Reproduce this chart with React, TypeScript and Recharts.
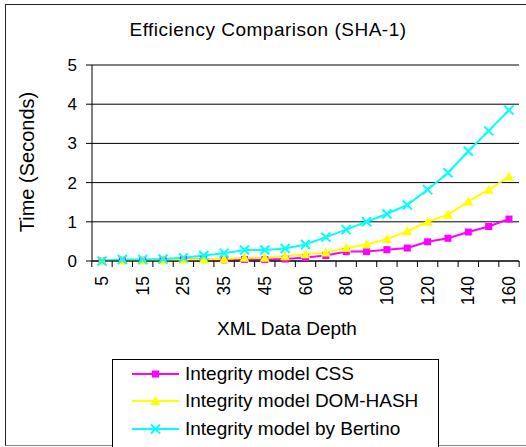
import React from 'react'
import { LineChart, Line, XAxis, YAxis, CartesianGrid, ReferenceLine } from 'recharts'

const depths = [5, 10, 15, 20, 25, 30, 35, 40, 45, 50, 60, 70, 80, 90, 100, 110, 120, 130, 140, 150, 160]
const cssTimes = [0, 0.02, 0.02, 0.03, 0.04, 0.04, 0.03, 0.04, 0.04, 0.05, 0.09, 0.14, 0.24, 0.24, 0.29, 0.33, 0.49, 0.58, 0.74, 0.88, 1.07]
const domHashTimes = [0, 0.01, 0.01, 0.02, 0.03, 0.04, 0.05, 0.08, 0.08, 0.12, 0.17, 0.22, 0.33, 0.42, 0.56, 0.76, 1.0, 1.18, 1.52, 1.82, 2.15]
const bertinoTimes = [0, 0.04, 0.04, 0.05, 0.08, 0.14, 0.2, 0.28, 0.28, 0.32, 0.42, 0.61, 0.8, 1.0, 1.2, 1.43, 1.82, 2.25, 2.8, 3.32, 3.85]
const yTicks = [0, 1, 2, 3, 4, 5]

const data = depths.map((d, i) => ({
  depth: d,
  css: cssTimes[i],
  dom: domHashTimes[i],
  bertino: bertinoTimes[i],
}))

const FONT = 'Arial, "Liberation Sans", sans-serif'
const HALF_STEP = 10.17

const SquareDot = (props: any) => {
  const { cx, cy, index } = props
  if (cx == null || cy == null) return <g key={index} />
  return <rect key={index} x={cx - 3.5} y={cy - 3.5} width={7} height={7} fill="#ff00ff" />
}

const TriangleDot = (props: any) => {
  const { cx, cy, index } = props
  if (cx == null || cy == null) return <g key={index} />
  return <polygon key={index} points={`${cx},${cy - 5} ${cx - 5},${cy + 4} ${cx + 5},${cy + 4}`} fill="#ffff00" />
}

const CrossDot = (props: any) => {
  const { cx, cy, index } = props
  if (cx == null || cy == null) return <g key={index} />
  return (
    <g key={index} stroke="#00ffff" strokeWidth={2}>
      <line x1={cx - 4.5} y1={cy - 4.5} x2={cx + 4.5} y2={cy + 4.5} />
      <line x1={cx - 4.5} y1={cy + 4.5} x2={cx + 4.5} y2={cy - 4.5} />
    </g>
  )
}

const DepthTick = (props: any) => {
  const { x, y, payload, index } = props
  const last = index === depths.length - 1
  return (
    <g>
      <line x1={x - HALF_STEP} y1={y - 8} x2={x - HALF_STEP} y2={y - 2} stroke="#000" />
      {last && <line x1={x + HALF_STEP} y1={y - 8} x2={x + HALF_STEP} y2={y - 2} stroke="#000" />}
      {index % 2 === 0 && (
        <text
          x={x + 6}
          y={y + 7}
          transform={`rotate(-90 ${x + 6} ${y + 7})`}
          textAnchor="end"
          fontSize={17.5}
          fontFamily={FONT}
          fill="#000"
        >
          {payload.value}
        </text>
      )}
    </g>
  )
}

const legendItems = [
  { name: 'Integrity model CSS', color: '#ff00ff', marker: 'square' },
  { name: 'Integrity model DOM-HASH', color: '#ffff00', marker: 'triangle' },
  { name: 'Integrity model by Bertino', color: '#00ffff', marker: 'cross' },
]

const LegendBox = () => (
  <div
    style={{
      position: 'absolute',
      left: 112,
      top: 359,
      width: 327,
      height: 100,
      border: '1px solid #000',
      boxSizing: 'border-box',
      background: '#fff',
      paddingTop: 0,
    }}
  >
    {legendItems.map((it) => (
      <div key={it.name} style={{ display: 'flex', alignItems: 'center', height: 27.5 }}>
        <svg width={72} height={20} style={{ flex: 'none' }}>
          <line x1={19} y1={10} x2={66} y2={10} stroke={it.color} strokeWidth={2} />
          {it.marker === 'square' && <rect x={39} y={6.5} width={7} height={7} fill={it.color} />}
          {it.marker === 'triangle' && <polygon points="42.5,5 37.5,14 47.5,14" fill={it.color} />}
          {it.marker === 'cross' && (
            <g stroke={it.color} strokeWidth={2}>
              <line x1={38} y1={5.5} x2={47} y2={14.5} />
              <line x1={38} y1={14.5} x2={47} y2={5.5} />
            </g>
          )}
        </svg>
        <span style={{ fontFamily: FONT, fontSize: 19, color: '#000', whiteSpace: 'nowrap' }}>{it.name}</span>
      </div>
    ))}
  </div>
)

export default function App() {
  return (
    <div style={{ position: 'absolute', left: 0, top: 0, width: 526, height: 447, background: '#fff', overflow: 'hidden' }}>
      <div
        style={{
          position: 'absolute',
          left: 5,
          top: 4,
          width: 530,
          height: 442,
          borderLeft: '1.5px solid #222',
          borderTop: '1.5px solid #222',
          borderBottom: '1px solid #888',
          boxSizing: 'border-box',
        }}
      />
      <div
        style={{
          position: 'absolute',
          left: 0,
          top: 19,
          width: 536,
          textAlign: 'center',
          fontFamily: FONT,
          fontSize: 19,
          letterSpacing: 0.5,
          color: '#000',
        }}
      >
        Efficiency Comparison (SHA-1)
      </div>
      <div style={{ position: 'absolute', left: 0, top: 0 }}>
        <LineChart width={526} height={447} data={data} margin={{ top: 65, right: 7, bottom: 126, left: 52 }}>
          <CartesianGrid vertical={false} stroke="#000" strokeWidth={1} />
          <XAxis
            dataKey="depth"
            type="category"
            interval={0}
            padding={{ left: 10, right: 10 }}
            axisLine={{ stroke: '#000' }}
            tickLine={false}
            tick={<DepthTick />}
            height={60}
            label={{
              content: () => (
                <text x={287} y={335} textAnchor="middle" fontSize={19} fontFamily={FONT} fill="#000">
                  XML Data Depth
                </text>
              ),
            }}
          />
          <YAxis
            domain={[0, 5]}
            ticks={yTicks}
            width={40}
            axisLine={{ stroke: '#000' }}
            tickLine={{ stroke: '#000' }}
            tickSize={6}
            tickMargin={9}
            tick={{ fill: '#000', fontSize: 17, fontFamily: FONT }}
            label={{
              content: () => (
                <text
                  x={34}
                  y={162}
                  transform="rotate(-90 34 162)"
                  textAnchor="middle"
                  fontSize={20}
                  fontFamily={FONT}
                  fill="#000"
                >
                  Time (Seconds)
                </text>
              ),
            }}
          />
          <YAxis yAxisId="r" orientation="right" width={0} tick={false} tickLine={false} axisLine={{ stroke: '#808080', strokeWidth: 1.5 }} />
          <ReferenceLine y={5} stroke="#808080" strokeWidth={1.5} />
          <Line dataKey="css" name="Integrity model CSS" stroke="#ff00ff" strokeWidth={2} dot={SquareDot} isAnimationActive={false} />
          <Line dataKey="dom" name="Integrity model DOM-HASH" stroke="#ffff00" strokeWidth={2} dot={TriangleDot} isAnimationActive={false} />
          <Line dataKey="bertino" name="Integrity model by Bertino" stroke="#00ffff" strokeWidth={2} dot={CrossDot} isAnimationActive={false} />
        </LineChart>
      </div>
      <LegendBox />
    </div>
  )
}
